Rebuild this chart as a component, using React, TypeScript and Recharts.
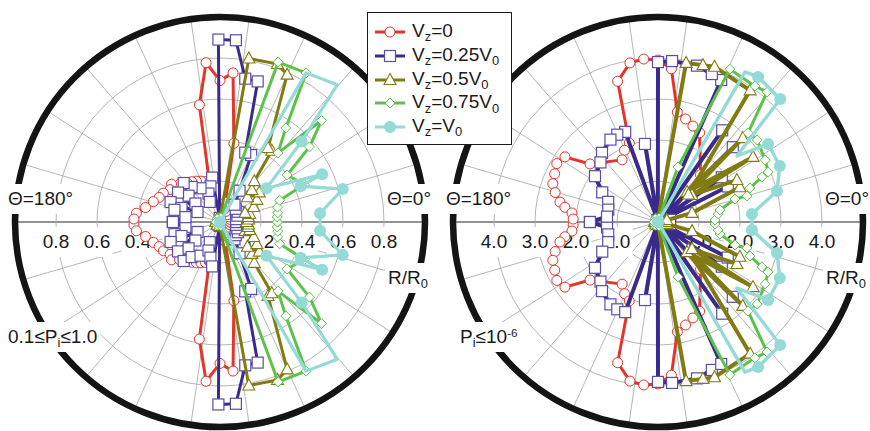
import React from 'react'
import { ScatterChart, Scatter, XAxis, YAxis, ReferenceDot, ReferenceLine } from 'recharts'

// [theta (deg), R/R0, marker hidden?] – upper half only, lower half is the mirror image
type Pt = [number, number, boolean?]

// left panel: 0.1 <= Pi <= 1.0
const leftRed: Pt[] = [
  [0, 0.05], [15, 0.05], [30, 0.05], [45, 0.05], [60, 0.06], [70, 0.07], [75, 0.1], [80, 0.39],
  [85, 0.73], [90, 0.69], [95, 0.78], [100, 0.58], [105, 0.2], [110, 0.21], [115, 0.22], [120, 0.23],
  [125, 0.24], [130, 0.25], [137, 0.27], [142, 0.3], [147, 0.29], [153, 0.31], [158, 0.32],
  [163, 0.34], [169, 0.37], [174, 0.41], [178, 0.42],
]
const leftBlue: Pt[] = [
  [0, 0.08], [10, 0.08], [20, 0.09], [30, 0.1], [40, 0.1], [50, 0.11], [58, 0.18], [65, 0.36],
  [70, 0.36], [75, 0.71], [80, 0.71], [85, 0.89], [90.5, 0.89], [95, 0.02], [100, 0.22], [105, 0.18],
  [112, 0.15], [117, 0.11], [120, 0.19], [129, 0.22], [133, 0.26], [140, 0.2], [143, 0.15],
  [145, 0.25], [156, 0.12], [158, 0.26], [160, 0.2], [165, 0.23], [172, 0.17], [180, 0.23],
]
const leftOlive: Pt[] = [
  [0, 0.13], [5, 0.14], [10, 0.14], [15, 0.15], [20, 0.13], [24, 0.18], [31, 0.21], [37, 0.24],
  [42, 0.18], [45, 0.22], [50, 0.26], [54, 0.43], [57, 0.43], [65.5, 0.79], [70, 0.82], [80, 0.81],
  [90, 0.02], [135, 0.02], [180, 0.02],
]
const leftGreen: Pt[] = [
  [0, 0.28], [5, 0.28], [9, 0.285], [14.5, 0.29], [20, 0.31], [24, 0.45], [35, 0.4], [40, 0.57],
  [45, 0.7], [50, 0.44], [55, 0.56], [60, 0.84], [70, 0.83], [80, 0.02], [130, 0.02], [180, 0.02],
]
const leftCyan: Pt[] = [
  [5, 0.49], [15, 0.62], [24, 0.43], [25, 0.55], [36, 0.28], [44.6, 0.56], [49.5, 0.88, true],
  [60, 0.84, true], [120, 0],
]

// right panel: Pi <= 1e-6
const rightRed: Pt[] = [
  [0, 0.2], [15, 0.2], [30, 0.25], [40, 0.5], [48, 1.55], [65, 2.4], [70, 2.49], [75, 2.6], [80, 2.72],
  [85, 3.75], [90, 3.95], [95, 3.99], [100, 3.94], [106, 3.57], [110, 2.05], [115, 1.93], [120, 1.75],
  [139.5, 2.18], [145, 2.77], [150, 2.85], [155, 2.78], [160, 2.73], [164, 2.61], [168.5, 2.44],
  [171, 2.3], [174, 2.11], [178, 2.07],
]
const rightBlue: Pt[] = [
  [0, 0.05], [10, 0.3], [20, 0.05], [27, 1.91], [31, 0.05], [35, 1.9], [40, 0.05], [45, 2.58],
  [50, 0.05], [55, 2.73], [60, 0.05], [66, 3.79], [70, 3.84], [76, 3.93], [85, 3.94], [90, 3.9],
  [94, 0.05], [99.5, 1.93], [103, 0.05], [110, 2.34], [115, 2.35], [120, 2.32], [129, 2.17],
  [134, 2.02], [144, 1.9], [152, 1.54], [158, 1.31], [166, 1.25], [174, 1.25], [180, 1.66],
]
const rightOlive: Pt[] = [
  [0, 0.2], [12, 0.22], [15, 0.86], [23, 2.17], [28, 2.18], [38.5, 1.06], [34.4, 2.81], [46, 1.02],
  [44.7, 2.91], [42, 1.0], [55, 3.92], [70, 4.03], [74, 3.98], [80, 3.94], [86, 0.08], [130, 0.08],
  [180, 0.08],
]
const rightGreen: Pt[] = [
  [2, 1.39], [7.6, 1.48], [11, 1.54], [16.6, 1.96], [16.3, 2.26], [20.3, 2.39], [23.4, 2.76],
  [24.4, 2.95], [30, 3.02], [39.6, 3.14], [44.7, 3.09], [50, 4.14], [54.5, 4.07], [64.8, 4.12],
  [70, 1.43], [76, 0.1], [130, 0.1], [180, 0.1],
]
const rightCyan: Pt[] = [
  [4.9, 2.3], [14.6, 3.0], [24.7, 3.27], [35.3, 3.29], [39.9, 2.51, true], [45.2, 4.23],
  [55.4, 4.3], [59.9, 4.23, true], [120, 0],
]

const leftRings = [0.2, 0.4, 0.6, 0.8]
const leftTicks = ['0.2', '0.4', '0.6', '0.8']
const rightRings = [1, 2, 3, 4]
const rightTicks = ['1.0', '2.0', '3.0', '4.0']

const RED = '#e2362a'
const BLUE = '#3a2a8c'
const BLUE_MK = '#5b4cab'
const OLIVE = '#807b12'
const GREEN = '#5cc24c'
const CYAN = '#93dbd4'

const SIZE = 430
const HALF = 215
const R_PX = 205
const SPOKES = 22
const FONT = '"Liberation Sans", Arial, sans-serif'

const rad = Math.PI / 180

function toXY(pts: Pt[]) {
  const upper = pts.map(([t, r, bare]) => ({
    x: r * Math.cos(t * rad),
    y: r * Math.sin(t * rad),
    bare: !!bare,
  }))
  const lower = [...upper].reverse().map((p) => ({ ...p, y: -p.y }))
  return [...lower, ...upper]
}

type Kind = 'circle' | 'square' | 'triangle' | 'diamond' | 'dot'

function Marker({ kind, cx, cy, payload }: any) {
  if (payload?.bare || cx == null) return <g />
  switch (kind as Kind) {
    case 'circle':
      return <circle cx={cx} cy={cy} r={5} fill="#fff" stroke={RED} strokeWidth={1} />
    case 'square':
      return <rect x={cx - 5.5} y={cy - 5.5} width={11} height={11} fill="#fff" stroke={BLUE_MK} strokeWidth={1.2} />
    case 'triangle':
      return (
        <polygon
          points={`${cx},${cy - 6.5} ${cx - 6},${cy + 4.5} ${cx + 6},${cy + 4.5}`}
          fill="#fff"
          stroke={OLIVE}
          strokeWidth={1.1}
        />
      )
    case 'diamond':
      return (
        <polygon
          points={`${cx},${cy - 5} ${cx + 5},${cy} ${cx},${cy + 5} ${cx - 5},${cy}`}
          fill="#fff"
          stroke={GREEN}
          strokeWidth={1}
        />
      )
    default:
      return <circle cx={cx} cy={cy} r={6} fill={CYAN} />
  }
}

interface SeriesDef {
  name: string
  pts: Pt[]
  color: string
  kind: Kind
  width: number
}

function Sub({ children }: { children: React.ReactNode }) {
  return <span style={{ fontSize: '0.68em', position: 'relative', top: '0.32em' }}>{children}</span>
}

function Sup({ children }: { children: React.ReactNode }) {
  return <span style={{ fontSize: '0.62em', position: 'relative', top: '-0.55em' }}>{children}</span>
}

function Tag({ left, baseline, center, children }: any) {
  return (
    <div
      style={{
        position: 'absolute',
        left: center ? left : left - 3,
        top: baseline - 22,
        height: 30,
        lineHeight: '30px',
        padding: '0 3px',
        background: '#fff',
        fontSize: 19,
        fontFamily: FONT,
        color: '#1a1a1a',
        whiteSpace: 'nowrap',
        transform: center ? 'translateX(-50%)' : undefined,
      }}
    >
      {children}
    </div>
  )
}

interface PanelProps {
  cx: number
  cy: number
  full: number
  rings: number[]
  ticks: string[]
  series: SeriesDef[]
  note: React.ReactNode
  noteLeft: number
}

function Axes({ d }: { d: number }) {
  return (
    <>
      <XAxis type="number" dataKey="x" domain={[-d, d]} hide allowDataOverflow />
      <YAxis type="number" dataKey="y" domain={[-d, d]} hide allowDataOverflow />
    </>
  )
}

function Panel({ cx, cy, full, rings, ticks, series, note, noteLeft }: PanelProps) {
  const d = (full * HALF) / R_PX
  const pos = { position: 'absolute' as const, left: cx - HALF, top: cy - HALF }
  const px = R_PX / full
  return (
    <>
      <div style={pos}>
        <ScatterChart width={SIZE} height={SIZE} margin={{ top: 0, right: 0, bottom: 0, left: 0 }}>
          <XAxis type="number" dataKey="x" domain={[-d, d]} hide allowDataOverflow />
          <YAxis type="number" dataKey="y" domain={[-d, d]} hide allowDataOverflow />
          {Array.from({ length: SPOKES }, (_, k) => {
            const a = (k * 360) / SPOKES
            return (
              <ReferenceLine
                key={`s${k}`}
                segment={[
                  { x: 0, y: 0 },
                  { x: full * Math.cos(a * rad), y: full * Math.sin(a * rad) },
                ]}
                stroke="#a3a3a3"
                strokeWidth={0.8}
              />
            )
          })}
          {rings.map((v) => (
            <ReferenceDot key={`r${v}`} x={0} y={0} r={v * px} fill="none" stroke="#a3a3a3" strokeWidth={0.8} />
          ))}
          <ReferenceLine
            segment={[
              { x: -full, y: 0 },
              { x: full, y: 0 },
            ]}
            stroke="#7a7a7a"
            strokeWidth={1.3}
          />
          <ReferenceDot x={0} y={0} r={R_PX} fill="none" stroke="#141414" strokeWidth={6.5} />
        </ScatterChart>
      </div>

      {/* labels sit between the grid and the data */}
      <Tag left={cx - 212} baseline={206}>Θ=180°</Tag>
      <Tag left={cx + 167} baseline={206}>Θ=0°</Tag>
      {rings.map((v, i) => (
        <React.Fragment key={`t${v}`}>
          <Tag left={cx - v * px} baseline={249} center>{ticks[i]}</Tag>
          <Tag left={cx + v * px} baseline={249} center>{ticks[i]}</Tag>
        </React.Fragment>
      ))}
      <Tag left={cx + 168} baseline={285}>
        R/R<Sub>0</Sub>
      </Tag>
      <Tag left={noteLeft} baseline={344}>{note}</Tag>

      <div style={pos}>
        <ScatterChart width={SIZE} height={SIZE} margin={{ top: 0, right: 0, bottom: 0, left: 0 }}>
          <XAxis type="number" dataKey="x" domain={[-d, d]} hide allowDataOverflow />
          <YAxis type="number" dataKey="y" domain={[-d, d]} hide allowDataOverflow />
          {series.map((s) => (
            <Scatter
              key={s.name}
              name={s.name}
              data={toXY(s.pts)}
              line={{ stroke: s.color, strokeWidth: s.width, strokeLinejoin: 'round' }}
              lineJointType="linear"
              shape={(p: any) => <Marker kind={s.kind} {...p} />}
              isAnimationActive={false}
            />
          ))}
        </ScatterChart>
      </div>
    </>
  )
}

const legendItems: { kind: Kind; color: string; label: React.ReactNode }[] = [
  { kind: 'circle', color: RED, label: <>V<Sub>z</Sub>=0</> },
  { kind: 'square', color: BLUE, label: <>V<Sub>z</Sub>=0.25V<Sub>0</Sub></> },
  { kind: 'triangle', color: OLIVE, label: <>V<Sub>z</Sub>=0.5V<Sub>0</Sub></> },
  { kind: 'diamond', color: GREEN, label: <>V<Sub>z</Sub>=0.75V<Sub>0</Sub></> },
  { kind: 'dot', color: CYAN, label: <>V<Sub>z</Sub>=V<Sub>0</Sub></> },
]

function Legend() {
  return (
    <div
      style={{
        position: 'absolute',
        left: 367,
        top: 12,
        width: 143,
        height: 131,
        border: '1.5px solid #1a1a1a',
        background: '#fff',
        fontFamily: FONT,
        fontSize: 19,
        color: '#1a1a1a',
      }}
    >
      {legendItems.map((it, i) => {
        const yc = 19 + i * 23.8
        return (
          <div key={i} style={{ position: 'absolute', left: 0, top: yc - 15, height: 30, width: 143 }}>
            <svg width={40} height={30} style={{ position: 'absolute', left: 5, top: 0 }}>
              <line x1={2} y1={15} x2={32} y2={15} stroke={it.color} strokeWidth={3} />
              <Marker kind={it.kind} cx={17} cy={15} payload={{}} />
            </svg>
            <div style={{ position: 'absolute', left: 44, top: 0, lineHeight: '28px', whiteSpace: 'nowrap' }}>
              {it.label}
            </div>
          </div>
        )
      })}
    </div>
  )
}

export default function App() {
  const leftSeries: SeriesDef[] = [
    { name: 'red', pts: leftRed, color: RED, kind: 'circle', width: 3 },
    { name: 'blue', pts: leftBlue, color: BLUE, kind: 'square', width: 3 },
    { name: 'olive', pts: leftOlive, color: OLIVE, kind: 'triangle', width: 3 },
    { name: 'green', pts: leftGreen, color: GREEN, kind: 'diamond', width: 3 },
    { name: 'cyan', pts: leftCyan, color: CYAN, kind: 'dot', width: 3.2 },
  ]
  const rightSeries: SeriesDef[] = [
    { name: 'red', pts: rightRed, color: RED, kind: 'circle', width: 3 },
    { name: 'blue', pts: rightBlue, color: BLUE, kind: 'square', width: 4 },
    { name: 'olive', pts: rightOlive, color: OLIVE, kind: 'triangle', width: 4 },
    { name: 'green', pts: rightGreen, color: GREEN, kind: 'diamond', width: 3 },
    { name: 'cyan', pts: rightCyan, color: CYAN, kind: 'dot', width: 3.4 },
  ]
  return (
    <div
      style={{
        position: 'absolute',
        left: 0,
        top: 0,
        width: 870,
        height: 431,
        overflow: 'hidden',
        background: '#fff',
      }}
    >
      <Panel
        cx={220}
        cy={222}
        full={1}
        rings={leftRings}
        ticks={leftTicks}
        series={leftSeries}
        noteLeft={8}
        note={
          <>
            0.1≤P<Sub>i</Sub>≤1.0
          </>
        }
      />
      <Panel
        cx={658}
        cy={222}
        full={5}
        rings={rightRings}
        ticks={rightTicks}
        series={rightSeries}
        noteLeft={460}
        note={
          <>
            P<Sub>i</Sub>≤10<Sup>-6</Sup>
          </>
        }
      />
      <Legend />
    </div>
  )
}
